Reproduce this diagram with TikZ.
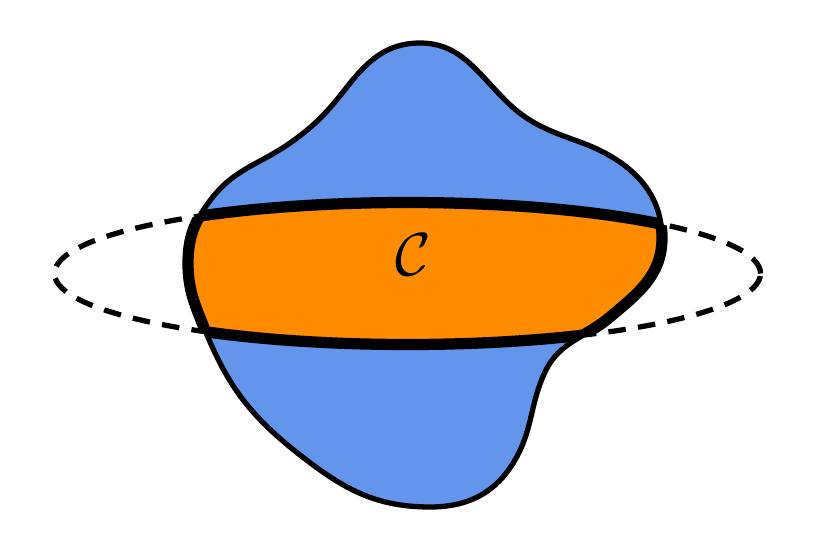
\documentclass[tikz,border=0pt]{standalone}
\usepackage{amsmath,amssymb}
\usepackage{tikz}
\definecolor{BlobBlue}{HTML}{6495ED}
\definecolor{BandOrange}{HTML}{FF8C00}
\def\blob{(4.20,-0.43) to[out=0,in=135] (5.05,-1.00) to[out=-45,in=160] (5.80,-1.42)
  to[out=-20,in=90] (6.62,-2.38) to[out=-90,in=40] (6.10,-3.17)
  to[out=-140,in=65] (5.45,-3.72) to[out=-115,in=60] (5.15,-4.60)
  to[out=-120,in=0] (4.30,-5.07) to[out=180,in=-38] (3.00,-4.55)
  to[out=142,in=-68] (2.05,-3.30) to[out=112,in=-90] (1.88,-2.63)
  to[out=90,in=-128] (2.12,-1.98) to[out=52,in=-145] (2.90,-1.43)
  to[out=35,in=-128] (3.47,-0.87) to[out=52,in=180] (4.20,-0.43) -- cycle}
\def\ring{(4.075,-2.735) ellipse [x radius=3.53, y radius=0.71]}

\begin{document}
\begin{tikzpicture}[
      line join=round,
      thin line/.style={line width=1.5pt,draw=black},
      thick line/.style={line width=3.2pt,draw=black},
      ring line/.style={line width=1.5pt,draw=black,dash pattern=on 5pt off 3.5pt}
    ]
    \useasboundingbox (0,0) rectangle (8.14,-5.51);
    \draw[ring line] \ring;
    \fill[BlobBlue] \blob;
    \draw[thin line] \blob;
    \begin{scope}
      \clip \blob;
      \fill[BandOrange] \ring;
      \draw[thick line] \ring;
    \end{scope}
    \begin{scope}
      \clip \ring;
      \draw[thick line] \blob;
    \end{scope}
    \node[font=\LARGE] (label) at (4.13,-2.55) {$\mathcal{C}$};
  \end{tikzpicture}
\end{document}
